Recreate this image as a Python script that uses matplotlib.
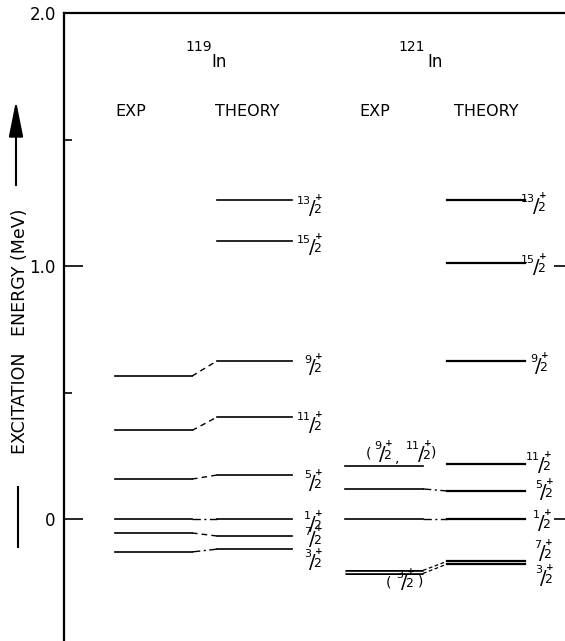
import matplotlib
matplotlib.use('Agg')
import matplotlib.pyplot as plt
from matplotlib.lines import Line2D

plt.rcParams['font.family'] = 'DejaVu Sans'

# level energies in MeV
exp119_spins = ['9/2', '11/2', '5/2', '1/2', '7/2', '3/2']
exp119 = [0.565, 0.350, 0.158, 0.0, -0.055, -0.130]
th119_spins = ['13/2', '15/2', '9/2', '11/2', '5/2', '1/2', '7/2', '3/2']
th119 = [1.261, 1.099, 0.625, 0.403, 0.174, 0.0, -0.067, -0.119]

exp121_spins = ['9/2,11/2', '5/2', '1/2', '3/2']
exp121 = [0.209, 0.119, 0.0, -0.209]
th121_spins = ['13/2', '15/2', '9/2', '11/2', '5/2', '1/2', '7/2', '3/2']
th121 = [1.261, 1.012, 0.625, 0.217, 0.111, 0.0, -0.167, -0.178]

# which exp level connects to which theory level, and line style
links119 = [('9/2', '--'), ('11/2', '--'), ('5/2', '--'), ('1/2', '-.'), ('7/2', '--'), ('3/2', '-.')]
links121 = [('5/2', '-.'), ('1/2', '-.')]

PX = 0.72  # points per pixel at dpi 100


def frac(ax, x, e, spin, dx=0, dy=0):
  """Draw a spin label like 13/2+ with the slash centred at (x, e) shifted by dx, dy pixels."""
  num, den = spin.split('/')
  kw = dict(xy=(x, e), textcoords='offset points', va='center')
  ax.annotate(num, xytext=((dx - 1) * PX, (dy + 8) * PX), ha='right', fontsize=8, **kw)
  ax.annotate('/', xytext=(dx * PX, dy * PX), ha='center', fontsize=14, **kw)
  ax.annotate(den, xytext=((dx + 5.5) * PX, (dy - 1) * PX), ha='center', fontsize=9, **kw)
  ax.annotate('+', xytext=((dx + 7) * PX, (dy + 11) * PX), ha='center', fontsize=6.5,
              fontweight='bold', **kw)


def plain(ax, x, e, t, dy):
  ax.annotate(t, xy=(x, e), xytext=(0, dy * PX), textcoords='offset points',
              ha='center', va='center', fontsize=10)


fig = plt.figure(figsize=(5.65, 6.41), dpi=100)
ax = fig.add_axes([64/565, 0, 1 - 64/565, 1 - 13/641])
ax.set_xlim(64, 565)
ax.set_ylim(-0.482, 2.0)

# column extents (x)
c_e119 = (115, 192)
c_t119 = (217, 292)
c_e121 = (345, 423)
c_t121 = (447, 525)

lw = 1.2
for e in exp119:
  ax.plot(c_e119, [e, e], color='k', lw=lw)
for e in th119:
  ax.plot(c_t119, [e, e], color='k', lw=lw)
for e in exp121[:-1]:
  ax.plot(c_e121, [e, e], color='k', lw=lw)
# doubled line for the (3/2+) exp level
ax.plot(c_e121, [exp121[-1]] * 2, color='k', lw=3.6, solid_capstyle='butt')
ax.plot(c_e121, [exp121[-1]] * 2, color='w', lw=1.0, solid_capstyle='butt')
for e in th121:
  ax.plot(c_t121, [e, e], color='k', lw=1.6)

for s, ls in links119:
  e0 = exp119[exp119_spins.index(s)]
  e1 = th119[th119_spins.index(s)]
  ax.plot([c_e119[1], c_t119[0]], [e0, e1], color='k', lw=1.0,
          dashes=(4, 3) if ls == '--' else (6, 2.5, 1.5, 2.5))
for s, ls in links121:
  e0 = exp121[exp121_spins.index(s)]
  e1 = th121[th121_spins.index(s)]
  ax.plot([c_e121[1], c_t121[0]], [e0, e1], color='k', lw=1.0, dashes=(6, 2.5, 1.5, 2.5))
# double dashed link for 3/2
e0 = exp121[-1]
for d, s in zip((0.006, -0.006), ('7/2', '3/2')):
  ax.plot([c_e121[1], c_t121[0]], [e0 + d, th121[th121_spins.index(s)]], color='k', lw=0.9, dashes=(3, 2))

# spin labels (vertical nudges in pixels, positive = down)
dy119 = [9, 7, 7, 8, 8, 5, 4, 13]
for s, e, d in zip(th119_spins, th119, dy119):
  frac(ax, 312, e, s, dy=-d)
dy121 = [7, 5, 6, 1, 2, 4, -8, 14]
dx121 = [536, 536, 538, 541, 543, 541, 542, 543]
for s, e, d, x in zip(th121_spins, th121, dy121, dx121):
  frac(ax, x, e, s, dy=-d)

# tentative exp assignments
lab_e = exp121[0]
plain(ax, 369, lab_e, '(', 13)
frac(ax, 382, lab_e, '9/2', dy=12)
plain(ax, 397, lab_e, ',', 8)
frac(ax, 421, lab_e, '11/2', dy=12)
plain(ax, 434, lab_e, ')', 14)
lab_e = exp121[-1]
plain(ax, 389, lab_e, '(', -11)
frac(ax, 404, lab_e, '3/2', dy=-11)
plain(ax, 421, lab_e, ')', -10)

# headers
ax.text(185, 1.866, '119', ha='left', va='center', fontsize=10)
ax.text(211, 1.806, 'In', ha='left', va='center', fontsize=12)
ax.text(398, 1.866, '121', ha='left', va='center', fontsize=10)
ax.text(427, 1.806, 'In', ha='left', va='center', fontsize=12)
for x, t in [(131, 'EXP'), (247, 'THEORY'), (375, 'EXP'), (486, 'THEORY')]:
  ax.text(x, 1.609, t, ha='center', va='center', fontsize=11.5)

# axes styling
for side in ('right', 'bottom'):
  ax.spines[side].set_visible(False)
ax.spines['left'].set_linewidth(1.6)
ax.spines['top'].set_linewidth(1.6)
ax.set_xticks([])
ax.set_yticks([0, 1.0, 2.0])
ax.set_yticklabels(['0', '1.0', '2.0'], fontsize=12)
ax.set_yticks([0.5, 1.5], minor=True)
ax.tick_params(axis='y', which='major', direction='in', length=14, width=1.2, pad=6)
ax.tick_params(axis='y', which='minor', direction='in', length=6, width=1.2)

ax2 = ax.twinx()
ax2.set_ylim(ax.get_ylim())
ax2.set_yticks([0, 1.0])
ax2.set_yticklabels([])
ax2.tick_params(axis='y', direction='in', length=8, width=1.2)
for side in ('right', 'bottom', 'top', 'left'):
  ax2.spines[side].set_visible(False)

# y label with arrow
fig.text(20/565, 1 - 331/641, 'EXCITATION   ENERGY (MeV)', rotation=90,
         ha='center', va='center', fontsize=12.5)
ax.annotate('', xy=(16, 641 - 98), xytext=(16, 641 - 188), xycoords='figure pixels',
            textcoords='figure pixels',
            arrowprops=dict(arrowstyle='-|>,head_length=1.1,head_width=0.22',
                            mutation_scale=20, lw=1.5, color='k'))
fig.add_artist(Line2D([18/565, 18/565], [1 - 487/641, 1 - 547/641],
                      transform=fig.transFigure, color='k', lw=1.5))

fig.savefig('out.png', dpi=100)
